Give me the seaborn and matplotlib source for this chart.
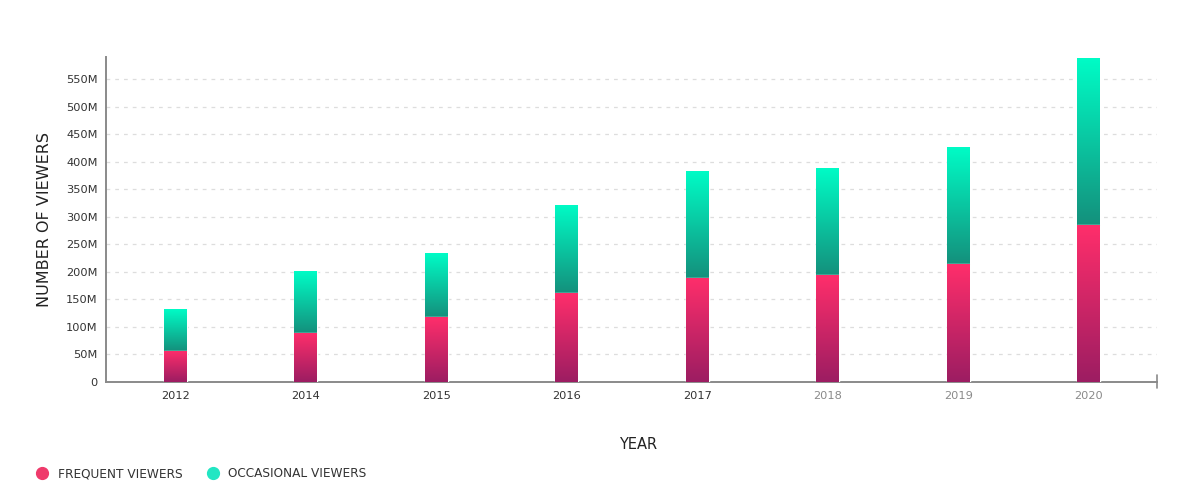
import matplotlib; matplotlib.use('Agg')
import numpy as np
import pandas as pd
import seaborn as sns
import matplotlib.pyplot as plt
from matplotlib.colors import LinearSegmentedColormap
from matplotlib.lines import Line2D
from matplotlib.ticker import FuncFormatter

# data (millions of viewers)
years = ['2012', '2014', '2015', '2016', '2017', '2018', '2019', '2020']
frequent = [57, 89, 118, 161, 189, 194, 214, 285]
occasional = [76, 112, 116, 160, 194, 194, 212, 303]
totals = [f + o for f, o in zip(frequent, occasional)]

df = pd.DataFrame({'year': years, 'frequent': frequent, 'total': totals})

sns.set_style('white')
plt.rcParams['font.family'] = ['DejaVu Sans']

fig = plt.figure(figsize=(12, 4.92), dpi=100)
ax = fig.add_axes([0.0883, 0.2236, 0.8757, 0.6604])

bw = 0.176
sns.barplot(data=df, x='year', y='total', color='#12c9a3', width=bw, ax=ax, zorder=2)
sns.barplot(data=df, x='year', y='frequent', color='#e8306a', width=bw, ax=ax, zorder=3)

teal = LinearSegmentedColormap.from_list('teal', ['#14907c', '#00fcc6'])
pink = LinearSegmentedColormap.from_list('pink', ['#9c1d62', '#ff2e6b'])
grad = np.linspace(0, 1, 256).reshape(-1, 1)

n = len(years)
patches = ax.patches
for i, p in enumerate(patches[:n]):
    x0, w = p.get_x(), p.get_width()
    im = ax.imshow(grad, extent=[x0, x0 + w, frequent[i], totals[i]], origin='lower',
                   cmap=teal, aspect='auto', zorder=2.5)
    im.set_clip_path(p)
for i, p in enumerate(patches[n:2 * n]):
    x0, w = p.get_x(), p.get_width()
    im = ax.imshow(grad, extent=[x0, x0 + w, 0, frequent[i]], origin='lower',
                   cmap=pink, aspect='auto', zorder=3.5)
    im.set_clip_path(p)

ax.set_xlim(-0.53, 7.52)
ax.set_ylim(0, 590)
ax.set_yticks(np.arange(0, 551, 50))
ax.yaxis.set_major_formatter(FuncFormatter(lambda v, _: '0' if v == 0 else f'{int(v)}M'))
ax.grid(axis='y', color='#dddddd', linestyle=(0, (3, 4)), linewidth=0.9, zorder=0)
ax.set_axisbelow(True)

for s in ['top', 'right']:
    ax.spines[s].set_visible(False)
for s in ['left', 'bottom']:
    ax.spines[s].set_color('#8a8a8a')
    ax.spines[s].set_linewidth(1.4)

ax.tick_params(axis='y', length=4, width=1.2, color='#8a8a8a', labelsize=8.2,
               labelcolor='#333333', pad=2)
ax.tick_params(axis='x', length=5, width=1.2, color='#8a8a8a', labelsize=8.2,
               labelcolor='#333333', pad=4, direction='inout')
for lbl in ax.get_xticklabels()[5:]:
    lbl.set_color('#8a8a8a')

# end cap on the x axis line
ax.plot([1, 1], [-0.02, 0.02], transform=ax.transAxes, color='#8a8a8a', lw=1.2,
        clip_on=False)
ax.set_yticks([590], minor=True)
ax.tick_params(axis='y', which='minor', length=4, width=1.2, color='#8a8a8a')

ax.set_xlabel('YEAR', fontsize=10.5, color='#222222', labelpad=31)
ax.xaxis.set_label_coords(0.506, -0.17)
ax.set_ylabel('NUMBER OF VIEWERS', fontsize=11.5, color='#222222', labelpad=10)

handles = [Line2D([], [], marker='o', linestyle='', markersize=8.5, color='#ef3a6b'),
           Line2D([], [], marker='o', linestyle='', markersize=8.5, color='#22e6c3')]
fig.legend(handles, ['FREQUENT VIEWERS', 'OCCASIONAL VIEWERS'], loc='center left',
           bbox_to_anchor=(0.016, 0.037), ncol=2, frameon=False, fontsize=8.7,
           handletextpad=0.3, columnspacing=1.5, labelcolor='#333333')

plt.savefig('out.png', dpi=100)
